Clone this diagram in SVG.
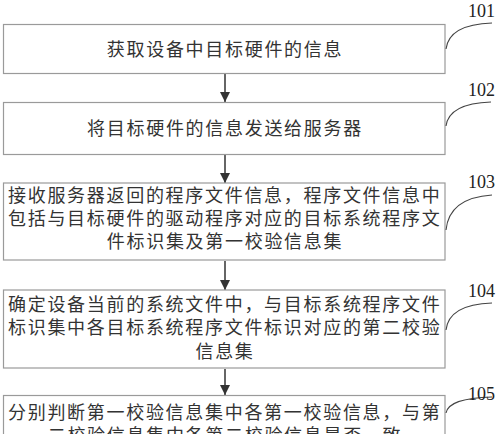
<svg xmlns="http://www.w3.org/2000/svg" width="500" height="434" viewBox="0 0 500 434">
<style>
.box{fill:#fff;stroke:#9a9a9a;stroke-width:1.2}
.t{font-family:"Noto Sans CJK SC","Noto Sans CJK TC",sans-serif;font-size:18px;fill:#333;letter-spacing:1.7px}
.c{text-anchor:middle}
.lbl{font-family:"Liberation Serif",serif;font-size:18px;fill:#222}
.lead{fill:none;stroke:#444;stroke-width:1.1}
.arr{stroke:#333;stroke-width:1.5;fill:none}
</style>
<defs>
<marker id="ah" viewBox="0 0 10 10" refX="10" refY="5" markerWidth="10" markerHeight="10" markerUnits="userSpaceOnUse" orient="auto">
<path d="M0,0 L10,5 L0,10 z" fill="#333"/>
</marker>
</defs>
<rect width="500" height="434" fill="#fff"/>
<g id="connectors">
<line class="arr" x1="225" y1="74" x2="225" y2="102" marker-end="url(#ah)"/>
<line class="arr" x1="225" y1="155" x2="225" y2="183" marker-end="url(#ah)"/>
<line class="arr" x1="225" y1="261" x2="225" y2="290" marker-end="url(#ah)"/>
<line class="arr" x1="225" y1="369" x2="225" y2="395" marker-end="url(#ah)"/>
</g>
<g id="n101">
<rect class="box" x="3.5" y="24.5" width="441.5" height="49"/>
<text class="t c" x="225" y="56">获取设备中目标硬件的信息</text>
<path class="lead" d="M446,49 C448,33 462,24 492,23"/>
<text class="lbl" x="468" y="17">101</text>
</g>
<g id="n102">
<rect class="box" x="3.5" y="102.5" width="441.5" height="52"/>
<text class="t c" x="225" y="135">将目标硬件的信息发送给服务器</text>
<path class="lead" d="M446,126 C448,111 462,103 491,102"/>
<text class="lbl" x="468" y="96">102</text>
</g>
<g id="n103">
<rect class="box" x="3.5" y="183" width="441.5" height="77"/>
<text class="t" x="8" y="202">接收服务器返回的程序文件信息，程序文件信息中</text>
<text class="t" x="8" y="225">包括与目标硬件的驱动程序对应的目标系统程序文</text>
<text class="t c" x="225" y="248">件标识集及第一校验信息集</text>
<path class="lead" d="M446,230 C448,210 462,197 492,195"/>
<text class="lbl" x="468" y="188">103</text>
</g>
<g id="n104">
<rect class="box" x="3.5" y="290" width="441.5" height="78"/>
<text class="t" x="8" y="311">确定设备当前的系统文件中，与目标系统程序文件</text>
<text class="t" x="8" y="334">标识集中各目标系统程序文件标识对应的第二校验</text>
<text class="t c" x="225" y="358">信息集</text>
<path class="lead" d="M446,330 C448,313 462,304 492,303"/>
<text class="lbl" x="468" y="297">104</text>
</g>
<g id="n105">
<rect class="box" x="3.5" y="395.5" width="441.5" height="60"/>
<text class="t" x="8" y="419">分别判断第一校验信息集中各第一校验信息，与第</text>
<text class="t c" x="225" y="442">二校验信息集中各第二校验信息是否一致</text>
<path class="lead" d="M446,413 C448,403 462,398 492,397"/>
<text class="lbl" x="468" y="400">105</text>
</g>
</svg>
